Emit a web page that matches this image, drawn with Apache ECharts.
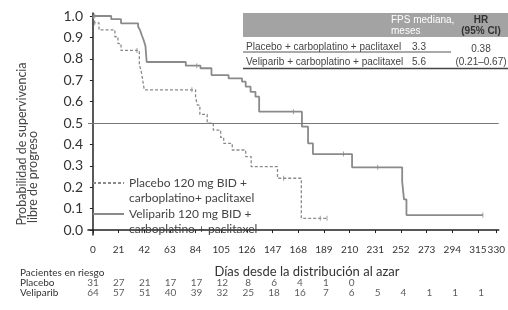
<!DOCTYPE html>
<html>
<head>
<meta charset="utf-8">
<script src="https://cdn.jsdelivr.net/npm/echarts@6/dist/echarts.min.js"></script>
<style>
  html, body { margin: 0; padding: 0; background: #fff; }
  #chart { width: 508px; height: 310px; }
</style>
</head>
<body>
<div id="chart"></div>
<script>
const xTicks = [0, 21, 42, 63, 84, 105, 126, 147, 168, 189, 210, 231, 252, 273, 294, 315, 330];
const yTicks = [0, 0.1, 0.2, 0.3, 0.4, 0.5, 0.6, 0.7, 0.8, 0.9, 1.0];

// Kaplan-Meier steps: [day, survival from that day on]
const veliparib = [[0, 1.0], [15, 0.985], [23, 0.966], [37, 0.95], [38.5, 0.935], [40, 0.91],
  [41.5, 0.888], [43, 0.86], [44, 0.785], [76, 0.768], [88, 0.756], [97, 0.724], [111, 0.709],
  [122, 0.693], [125, 0.67], [129, 0.646], [133, 0.623], [136, 0.553], [171, 0.483], [176, 0.405],
  [180, 0.355], [212, 0.293], [253, 0.226], [254.5, 0.143], [256.5, 0.07], [319, 0.07]];
const placebo = [[0, 1.0], [1.5, 0.968], [5, 0.935], [18, 0.903], [20.5, 0.871], [23, 0.839],
  [38, 0.774], [39.5, 0.742], [40.5, 0.71], [42, 0.655], [84, 0.62], [85.5, 0.584], [87.5, 0.54],
  [93.5, 0.5], [98.5, 0.467], [104.5, 0.433], [107, 0.405], [114, 0.374], [125, 0.343],
  [129.5, 0.296], [151, 0.242], [170.5, 0.055], [191.5, 0.055]];
const veliCensor = [[1.5, 1.0], [85, 0.768], [164, 0.553], [205, 0.355], [233, 0.293], [319, 0.07]];
const placCensor = [[1.5, 0.968], [36, 0.839], [81, 0.655], [156, 0.242], [186, 0.055], [191.5, 0.055]];

// patients at risk, one value per x tick
const riskRows = ['Veliparib', 'Placebo'];
const placeboRisk = [31, 27, 21, 17, 17, 12, 8, 6, 4, 1, 0];
const veliRisk = [64, 57, 51, 40, 39, 32, 25, 18, 16, 7, 6, 5, 4, 1, 1, 1];

// inset table
const tableArms = ['Placebo + carboplatino + paclitaxel', 'Veliparib + carboplatino + paclitaxel'];
const tableMedian = ['3.3', '5.6'];
const tableHR = ['0.38', '(0.21\u20130.67)'];

const legendText = {
  Placebo: ' \nPlacebo 120 mg BID +\ncarboplatino+ paclitaxel',
  Veliparib: ' \nVeliparib 120 mg BID +\ncarboplatino + paclitaxel'
};

const curveColor = '#8a8a8a';
const font = 'Lato';
const narrow = '"Liberation Sans Narrow", "Liberation Sans"';

const riskData = [];
placeboRisk.forEach((v, i) => riskData.push([xTicks[i], 'Placebo', v]));
veliRisk.forEach((v, i) => riskData.push([xTicks[i], 'Veliparib', v]));

const chart = echarts.init(document.getElementById('chart'));

const graphic = [
  // y axis title (two lines)
  { type: 'text', x: 22, y: 144, rotation: Math.PI / 2,
    style: { text: 'Probabilidad de supervivencia', font: '12.5px ' + font, fill: '#444', align: 'center', verticalAlign: 'middle' } },
  { type: 'text', x: 33, y: 177, rotation: Math.PI / 2,
    style: { text: 'libre de progreso', font: '12.5px ' + font, fill: '#444', align: 'center', verticalAlign: 'middle' } },
  // x axis title
  { type: 'text', x: 307, y: 272,
    style: { text: 'Días desde la distribución al azar', font: '13px ' + font, fill: '#333', align: 'center', verticalAlign: 'middle' } },
  { type: 'text', x: 20, y: 273,
    style: { text: 'Pacientes en riesgo', font: '10px ' + font, fill: '#333', verticalAlign: 'middle' } },
  // inset table
  { type: 'rect', shape: { x: 243, y: 13, width: 265, height: 24 }, style: { fill: '#a3a3a3' } },
  { type: 'text', x: 391, y: 20.5, style: { text: 'FPS mediana,', font: '10px ' + narrow, fill: '#fff', verticalAlign: 'middle' } },
  { type: 'text', x: 391, y: 31.5, style: { text: 'meses', font: '10px ' + narrow, fill: '#fff', verticalAlign: 'middle' } },
  { type: 'text', x: 481, y: 20.5, style: { text: 'HR', font: 'bold 10px ' + narrow, fill: '#333', align: 'center', verticalAlign: 'middle' } },
  { type: 'text', x: 481, y: 31.5, style: { text: '(95% CI)', font: 'bold 10px ' + narrow, fill: '#333', align: 'center', verticalAlign: 'middle' } },
  { type: 'line', shape: { x1: 243, y1: 52, x2: 451, y2: 52 }, style: { stroke: '#555', lineWidth: 1 } },
  { type: 'line', shape: { x1: 243, y1: 68.5, x2: 508, y2: 68.5 }, style: { stroke: '#444', lineWidth: 1.5 } }
];
tableArms.forEach((t, i) => {
  const y = 47 + i * 15;
  graphic.push({ type: 'text', x: 246, y: y, style: { text: t, font: '10px ' + narrow, fill: '#444', verticalAlign: 'middle' } });
  graphic.push({ type: 'text', x: 419, y: y, style: { text: tableMedian[i], font: '10px ' + narrow, fill: '#444', align: 'center', verticalAlign: 'middle' } });
  graphic.push({ type: 'text', x: 481, y: y + (i === 0 ? 2 : 0), style: { text: tableHR[i], font: '10px ' + narrow, fill: '#444', align: 'center', verticalAlign: 'middle' } });
});

function legendFor(name, top) {
  return {
    orient: 'vertical', left: 92, top: top, padding: 0,
    itemWidth: 31, itemHeight: 12,
    itemStyle: { opacity: 0 },
    textStyle: { fontFamily: font, fontSize: 12, color: '#444', lineHeight: 15 },
    data: [name],
    formatter: n => legendText[n]
  };
}

const option = {
  animation: false,
  textStyle: { fontFamily: font },
  grid: [
    { left: 88, right: 6, top: 13, height: 222 },
    { left: 88, right: 6, top: 278, height: 20 }
  ],
  legend: [legendFor('Placebo', 160.5), legendFor('Veliparib', 191.5)],
  xAxis: [
    {
      type: 'value', gridIndex: 0, min: -4, max: 332,
      splitLine: { show: false },
      axisLine: { lineStyle: { color: '#222', width: 1.5 } },
      axisTick: { customValues: xTicks, length: 3, lineStyle: { color: '#222' } },
      axisLabel: { customValues: xTicks, fontSize: 10, color: '#333', margin: 10 }
    },
    { type: 'value', gridIndex: 1, min: -4, max: 332, show: false }
  ],
  yAxis: [
    {
      type: 'value', gridIndex: 0, min: -0.023, max: 1.014,
      splitLine: { show: false },
      axisLine: { show: true, lineStyle: { color: '#222', width: 1.5 } },
      axisTick: { show: true, customValues: yTicks, length: 3, lineStyle: { color: '#222' } },
      axisLabel: { customValues: yTicks, fontSize: 14, color: '#333', margin: 5, formatter: v => v.toFixed(1) }
    },
    {
      type: 'category', gridIndex: 1, data: riskRows,
      axisLine: { show: false }, axisTick: { show: false },
      axisLabel: { interval: 0, align: 'left', margin: 68, fontSize: 10, color: '#333' }
    }
  ],
  series: [
    {
      name: 'Placebo', type: 'line', step: 'end', data: placebo, showSymbol: false, symbol: 'none',
      lineStyle: { color: curveColor, width: 1.3, type: [3, 2] }, itemStyle: { color: curveColor }
    },
    {
      name: 'Veliparib', type: 'line', step: 'end', data: veliparib, showSymbol: false, symbol: 'none',
      lineStyle: { color: curveColor, width: 1.8 }, itemStyle: { color: curveColor },
      markLine: {
        silent: true, symbol: 'none', label: { show: false },
        lineStyle: { color: '#777', width: 1, type: 'solid' },
        data: [{ yAxis: 0.5 }]
      }
    },
    {
      type: 'scatter', data: placCensor.concat(veliCensor), symbol: 'rect', symbolSize: [1, 5],
      itemStyle: { color: curveColor }, silent: true
    },
    {
      type: 'scatter', xAxisIndex: 1, yAxisIndex: 1, data: riskData, symbolSize: 0, silent: true,
      label: { show: true, position: 'inside', formatter: p => p.value[2], fontSize: 10, color: '#333' }
    }
  ],
  graphic: graphic
};

chart.setOption(option);
</script>
</body>
</html>
